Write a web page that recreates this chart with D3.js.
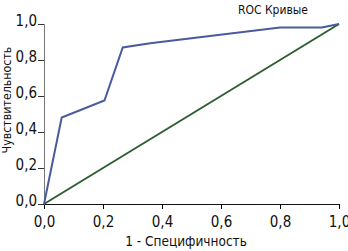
<!DOCTYPE html>
<html>
<head>
<meta charset="utf-8">
<script src="https://cdn.jsdelivr.net/npm/d3@7"></script>
<style>
  body { margin: 0; background: #fff; }
  text { font-family: "Liberation Sans Narrow", "DejaVu Sans Condensed", "Liberation Sans", sans-serif; fill: #111; }
</style>
</head>
<body>
<script>
// ROC кривые
const rocX = [0, 0.06, 0.205, 0.267, 0.36, 0.8, 0.942, 1]
const rocY = [0, 0.48, 0.575, 0.87, 0.893, 0.98, 0.98, 1]
const diagX = [0, 1]
const diagY = [0, 1]
const tickVals = [0, 0.2, 0.4, 0.6, 0.8, 1]

const W = 348, H = 251
const m = { left: 44, right: 9, top: 24, bottom: 47 }

const svg = d3.select('body').append('svg').attr('width', W).attr('height', H)
const x = d3.scaleLinear().domain([0, 1]).range([m.left, W - m.right])
const y = d3.scaleLinear().domain([0, 1]).range([H - m.bottom, m.top])
const fmt = (d) => d3.format('.1f')(d).replace('.', ',')

const gx = svg.append('g').attr('transform', `translate(0,${H - m.bottom})`)
  .call(d3.axisBottom(x).tickValues(tickVals).tickFormat(fmt).tickSizeOuter(0).tickSize(5).tickPadding(7))
const gy = svg.append('g').attr('transform', `translate(${m.left},0)`)
  .call(d3.axisLeft(y).tickValues(tickVals).tickFormat(fmt).tickSizeOuter(0).tickSize(6).tickPadding(1))
gx.selectAll('text').attr('font-size', 15).attr('font-family', null)
gy.selectAll('text').attr('font-size', 15).attr('font-family', null).attr('dy', '0.1em')
gx.select('.domain').attr('stroke', '#111')
gy.select('.domain').attr('stroke', '#777')
gy.selectAll('.tick line').attr('stroke', '#333')

const line = d3.line().x((d) => x(d[0])).y((d) => y(d[1]))
svg.append('path').datum(diagX.map((v, i) => [v, diagY[i]]))
  .attr('d', line).attr('fill', 'none').attr('stroke', '#2f5f30').attr('stroke-width', 2)
svg.append('path').datum(rocX.map((v, i) => [v, rocY[i]]))
  .attr('d', line).attr('fill', 'none').attr('stroke', '#4a5a9c').attr('stroke-width', 2)

svg.append('text').attr('x', 273).attr('y', 14).attr('text-anchor', 'middle')
  .attr('font-size', 12).text('ROC Кривые')
svg.append('text').attr('x', 186).attr('y', 246).attr('text-anchor', 'middle')
  .attr('font-size', 13.5).text('1 - Специфичность')
svg.append('text').attr('transform', 'translate(11,100) rotate(-90)').attr('text-anchor', 'middle')
  .attr('font-size', 12.3).text('Чувствительность')
</script>
</body>
</html>
